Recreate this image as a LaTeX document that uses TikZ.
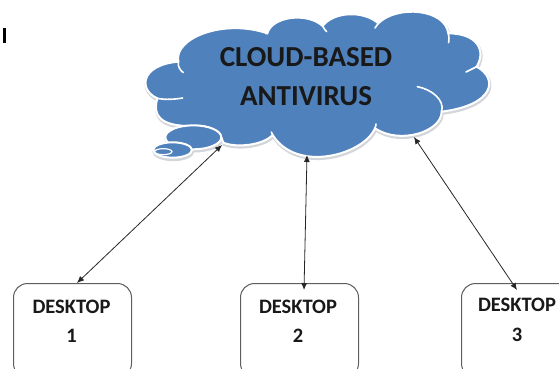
\documentclass[tikz,border=0pt]{standalone}
\usepackage{fontspec}
\setmainfont{Carlito}
\usetikzlibrary{arrows.meta}
\definecolor{cloudblue}{HTML}{4F81BD}
\definecolor{boxedge}{HTML}{5E5E5E}
\definecolor{shade}{HTML}{D2D5DA}
\tikzset{
  deskbox/.style={draw=boxedge,line width=1pt,rounded corners=14pt,fill=white,minimum width=118pt,minimum height=94pt,inner sep=0pt,anchor=north west},
  desklabel/.style={font=\bfseries\fontsize{20.5}{20.5}\selectfont,text=black!90,inner sep=0pt},
  cloudlabel/.style={font=\bfseries\fontsize{29}{29}\selectfont,text=black!90,inner sep=0pt},
  link/.style={draw=black!85,line width=0.8pt,{Latex[length=7pt,width=6pt]}-{Latex[length=7pt,width=6pt]}},
  cloudfill/.style={fill=cloudblue,draw=white,line width=2pt},
  cloudshade/.style={draw=shade,line width=3pt,fill=shade},
  cloudinner/.style={draw=white,line width=1.6pt,line cap=round}
}
\newcommand{\cloudpath}{(145,185) .. controls (130,115) and (280,55) .. (412,100)
  .. controls (425,50) and (530,35) .. (578,78)
  .. controls (610,35) and (700,30) .. (745,70)
  .. controls (800,15) and (945,25) .. (955,100)
  .. controls (1040,100) and (1070,150) .. (1040,200)
  .. controls (1105,235) and (1095,315) .. (935,335)
  .. controls (935,395) and (810,435) .. (735,385)
  .. controls (700,465) and (500,520) .. (428,405)
  .. controls (400,435) and (320,445) .. (280,428)
  .. controls (270,385) and (220,375) .. (200,378)
  .. controls (130,380) and (60,370) .. (82,295)
  .. controls (25,270) and (30,195) .. (145,185) -- cycle}
\begin{document}
\begin{tikzpicture}[x=1pt,y=-1pt]
\useasboundingbox (0,0) rectangle (559,368);
\fill[black] (3,28) rectangle (6,43);
% cloud
\begin{scope}[shift={(130,0)},x=0.3333pt,y=-0.3333pt]
  \begin{scope}[shift={(2,5)}]
    \path[cloudshade] \cloudpath;
    \path[cloudshade] (190,412) ellipse [x radius=84,y radius=36];
    \path[cloudshade] (128,450) ellipse [x radius=58,y radius=24];
  \end{scope}
  \path[cloudfill] \cloudpath;
  \path[cloudfill] (190,412) ellipse [x radius=84,y radius=36];
  \path[cloudfill] (128,450) ellipse [x radius=58,y radius=23];
  \path[cloudfill,line width=1.2pt] (100,455) ellipse [x radius=26,y radius=9];
  \draw[cloudinner] (145,185) .. controls (143,200) and (150,210) .. (160,218);
  \draw[cloudinner] (82,295) .. controls (105,300) and (135,298) .. (158,294);
  \draw[cloudinner] (412,100) .. controls (410,105) and (408,100) .. (400,88);
  \draw[cloudinner] (578,78) .. controls (582,85) and (585,90) .. (590,95);
  \draw[cloudinner] (745,70) .. controls (740,75) and (738,78) .. (735,84);
  \draw[cloudinner] (955,100) .. controls (957,112) and (958,118) .. (956,128);
  \draw[cloudinner] (1040,200) .. controls (1030,205) and (1020,210) .. (1008,216);
  \draw[cloudinner] (935,335) .. controls (945,300) and (905,268) .. (862,260);
  \draw[cloudinner] (735,385) .. controls (737,380) and (738,375) .. (738,372);
  \draw[cloudinner] (428,405) .. controls (425,402) and (424,400) .. (424,396);
\end{scope}
\node[cloudlabel] (cloudtop) at (306,57) {CLOUD-BASED};
\node[cloudlabel] (cloudbot) at (306,96) {ANTIVIRUS};
% desktops
\node[deskbox] (d1) at (13,283) {};
\node[deskbox] (d2) at (240,283) {};
\node[deskbox,minimum width=120pt] (d3) at (461,283) {};
\node[desklabel] (t1a) at (71.5,307) {DESKTOP};
\node[desklabel] (t1b) at (71.5,336) {1};
\node[desklabel] (t2a) at (298,307) {DESKTOP};
\node[desklabel] (t2b) at (298,336) {2};
\node[desklabel] (t3a) at (517,305) {DESKTOP};
\node[desklabel] (t3b) at (517,335) {3};
% connectors
\coordinate (c1) at (222,145);
\coordinate (c2) at (307,155);
\coordinate (c3) at (414,137);
\coordinate (e1) at (77,283);
\coordinate (e2) at (304,290);
\coordinate (e3) at (517,290);
\draw[link] (c1) -- (e1);
\draw[link] (c2) -- (e2);
\draw[link] (c3) -- (e3);
\end{tikzpicture}
\end{document}
